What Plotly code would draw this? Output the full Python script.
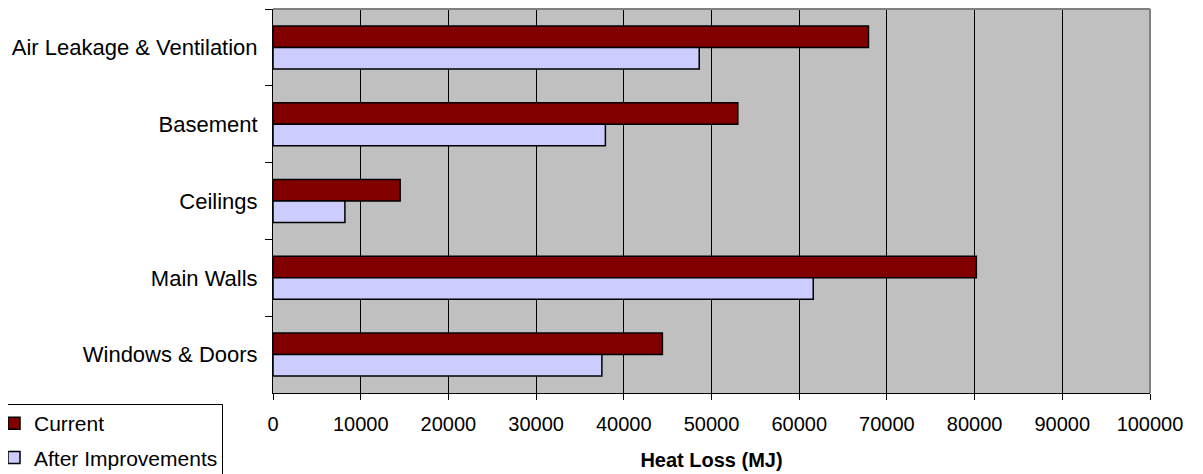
import plotly.graph_objects as go

categories = ["Air Leakage & Ventilation", "Basement", "Ceilings", "Main Walls", "Windows & Doors"]
current = [67900, 53000, 14500, 80200, 44400]
after_improvements = [48600, 37900, 8200, 61600, 37500]
x_ticks = [0, 10000, 20000, 30000, 40000, 50000, 60000, 70000, 80000, 90000, 100000]

# the page body adds an 8px offset, so the figure is sized to fit the window
OFF = 8
W, H = 1203 - OFF, 474 - OFF
ML, MR, MT, MB = 273 - OFF, 53, 9 - OFF, 81
PW, PH = W - ML - MR, H - MT - MB

def px(x):
    # x in page pixels -> paper coords
    return (x - OFF - ML) / PW

def py(y):
    return (H - MB - (y - OFF)) / PH

FONT = "Liberation Sans, Arial, sans-serif"

fig = go.Figure()
fig.add_trace(go.Bar(
    y=categories, x=current, name="Current", orientation="h",
    legendgroup="a",
    marker=dict(color="#800000", line=dict(color="#000000", width=1.5)),
))
fig.add_trace(go.Bar(
    y=categories, x=after_improvements, name="After Improvements", orientation="h",
    legendgroup="b",
    marker=dict(color="#CCCCFF", line=dict(color="#000000", width=1.5)),
))

fig.update_layout(
    width=W, height=H,
    margin=dict(l=ML, r=MR, t=MT, b=MB, pad=0, autoexpand=False),
    paper_bgcolor="white",
    plot_bgcolor="#C0C0C0",
    barmode="group",
    bargap=0.44,
    bargroupgap=0,
    font=dict(family=FONT, size=20, color="#000000"),
    showlegend=True,
    legend=dict(
        x=px(-6), y=py(403), xanchor="left", yanchor="top",
        traceorder="grouped", tracegroupgap=4,
        bgcolor="rgba(0,0,0,0)", borderwidth=0,
        font=dict(family=FONT, size=21, color="#000000"),
        itemwidth=30,
    ),
    xaxis=dict(
        range=[0, 100000],
        tickvals=x_ticks,
        tickformat="d",
        showgrid=True, gridcolor="#000000", gridwidth=1,
        zeroline=False,
        showline=True, linecolor="#000000", linewidth=1,
        ticks="outside", ticklen=6, tickcolor="#000000",
        tickfont=dict(family=FONT, size=20),
        ticklabelstandoff=7,
        title=dict(text="<b>Heat Loss (MJ)</b>", font=dict(family=FONT, size=20), standoff=18),
        fixedrange=True,
    ),
    yaxis=dict(
        autorange="reversed",
        showgrid=False,
        zeroline=False,
        showline=True, linecolor="#000000", linewidth=1,
        ticks="outside", ticklen=7, tickcolor="#000000",
        tickson="boundaries",
        tickfont=dict(family=FONT, size=22),
        ticklabelstandoff=10,
        fixedrange=True,
    ),
    shapes=[
        dict(type="line", xref="paper", yref="paper", x0=0, x1=1, y0=1, y1=1,
             line=dict(color="#808080", width=2)),
        dict(type="line", xref="paper", yref="paper", x0=1, x1=1, y0=0, y1=1,
             line=dict(color="#808080", width=2)),
        dict(type="rect", xref="paper", yref="paper",
             x0=px(3), x1=px(222.5), y0=py(485), y1=py(404.5),
             line=dict(color="#000000", width=1), fillcolor="rgba(0,0,0,0)"),
    ],
)

fig.write_html("out.html")
